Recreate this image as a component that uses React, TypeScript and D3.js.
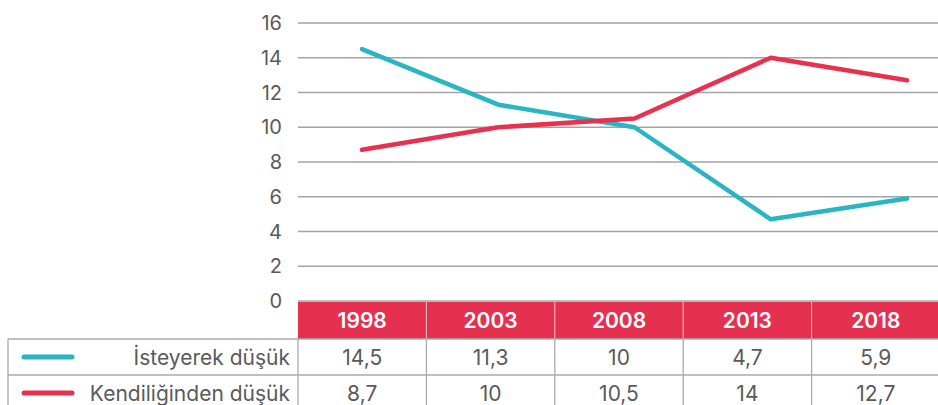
import React, {useEffect, useRef} from 'react';
import * as d3 from 'd3';

const years = ['1998', '2003', '2008', '2013', '2018'];
const isteyerek = [14.5, 11.3, 10, 4.7, 5.9];
const kendiliginden = [8.7, 10, 10.5, 14, 12.7];
const seriesNames = ['İsteyerek düşük', 'Kendiliğinden düşük'];
const seriesColors = ['#29b6c2', '#e8304f'];
const yTicks = [0, 2, 4, 6, 8, 10, 12, 14, 16];

const width = 938;
const height = 405;
const font = 'Inter, "Noto Sans", sans-serif';

const App = () => {
    const svgRef = useRef<SVGSVGElement>(null);

    useEffect(() => {
        const svg = d3.select(svgRef.current);
        svg.selectAll('*').remove();

        const plotLeft = 298;
        const plotRight = 938;
        const y = d3.scaleLinear().domain([0, 16]).range([301, 23]);
        // table columns
        const col = d3.scaleBand().domain(years).range([plotLeft, plotLeft + 642]);
        // line points sit on their own scale
        const x = d3.scalePoint().domain(years).range([362, 907]);

        // grid
        svg.append('g').selectAll('line').data(yTicks).enter().append('line')
            .attr('x1', plotLeft).attr('x2', plotRight)
            .attr('y1', (d) => y(d)).attr('y2', (d) => y(d))
            .attr('stroke', '#a3a3a3').attr('stroke-width', 1.3);

        svg.append('g').selectAll('text').data(yTicks).enter().append('text')
            .attr('x', 282).attr('y', (d) => y(d) + 7)
            .attr('text-anchor', 'end')
            .style('font-family', font).style('font-size', '20px')
            .attr('fill', '#5a5a5a')
            .text((d) => d);

        // lines
        const series = [isteyerek, kendiliginden];
        const line = d3.line<number>().x((d, i) => x(years[i])!).y((d) => y(d));
        series.forEach((s, i) => {
            svg.append('path').datum(s)
                .attr('d', line)
                .attr('fill', 'none')
                .attr('stroke', seriesColors[i])
                .attr('stroke-width', 4.5)
                .attr('stroke-linecap', 'round')
                .attr('stroke-linejoin', 'round');
        });

        // table header
        const headTop = 302;
        const headH = 37;
        const rowH = 36;
        svg.append('rect').attr('x', plotLeft).attr('y', headTop)
            .attr('width', plotRight - plotLeft).attr('height', headH)
            .attr('fill', '#e6304f');
        svg.append('g').selectAll('line').data(years.slice(1)).enter().append('line')
            .attr('x1', (d) => col(d)!).attr('x2', (d) => col(d)!)
            .attr('y1', headTop).attr('y2', headTop + headH)
            .attr('stroke', '#f3c4cc').attr('stroke-width', 1);
        svg.append('g').selectAll('text').data(years).enter().append('text')
            .attr('x', (d) => col(d)! + col.bandwidth() / 2)
            .attr('y', headTop + 26)
            .attr('text-anchor', 'middle')
            .style('font-family', font).style('font-size', '21px').style('font-weight', 600)
            .attr('fill', '#fff')
            .text((d) => d);

        // body rows
        const bodyTop = headTop + headH;
        const grid = svg.append('g').attr('stroke', '#aaa').attr('stroke-width', 1.3);
        [0, 1, 2].forEach((r) => {
            grid.append('line').attr('x1', 8).attr('x2', plotRight)
                .attr('y1', bodyTop + r * rowH).attr('y2', bodyTop + r * rowH);
        });
        [8, plotLeft, ...years.slice(1).map((d) => col(d)!)].forEach((vx) => {
            grid.append('line').attr('x1', vx).attr('x2', vx)
                .attr('y1', bodyTop).attr('y2', bodyTop + 2 * rowH);
        });

        series.forEach((s, r) => {
            const cy = bodyTop + r * rowH + rowH / 2;
            svg.append('line').attr('x1', 24).attr('x2', 72)
                .attr('y1', cy).attr('y2', cy)
                .attr('stroke', seriesColors[r]).attr('stroke-width', 5)
                .attr('stroke-linecap', 'round');
            svg.append('text').attr('x', 290).attr('y', cy + 7.5)
                .attr('text-anchor', 'end')
                .style('font-family', font).style('font-size', '21px')
                .attr('fill', '#5a5a5a')
                .text(seriesNames[r]);
            svg.append('g').selectAll('text').data(s).enter().append('text')
                .attr('x', (d, i) => col(years[i])! + col.bandwidth() / 2)
                .attr('y', cy + 7.5)
                .attr('text-anchor', 'middle')
                .style('font-family', font).style('font-size', '21px')
                .attr('fill', '#5a5a5a')
                .text((d) => String(d).replace('.', ','));
        });
    }, []);

    return <svg ref={svgRef} width={width} height={height}
                style={{position: 'absolute', left: 0, top: 0, background: '#fff'}}/>;
};

export default App;
